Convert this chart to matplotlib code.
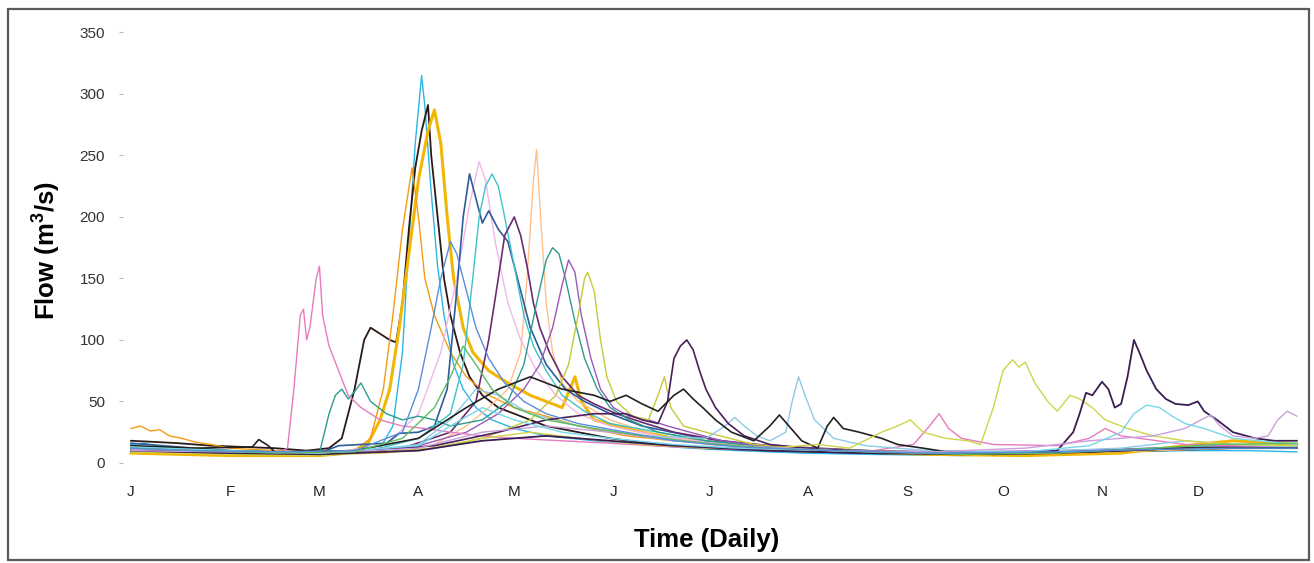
import matplotlib
matplotlib.use("Agg")
import matplotlib.pyplot as plt
from matplotlib.patches import Rectangle

plt.rcParams["font.family"] = ["Liberation Sans", "DejaVu Sans"]
plt.rcParams["mathtext.fontset"] = "custom"
plt.rcParams["mathtext.rm"] = "Liberation Sans:bold"
plt.rcParams["mathtext.it"] = "Liberation Sans:bold"
plt.rcParams["mathtext.bf"] = "Liberation Sans:bold"

# ---- data: (day of year, flow m3/s) ----
s01 = [(0,15),(4,16),(10,13),(20,11),(31,10),(45,9),(59,8),(70,9),(78,12),(82,30),(85,90),(87,180),(89,260),(91,315),(92,290),(94,220),(96,160),(98,120),(101,80),(104,60),(108,45),(113,35),(120,28),(130,22),(145,18),(160,15),(175,12),(190,10),(210,8),(230,7),(260,6),(290,7),(310,9),(330,10),(350,10),(365,9)]
s02 = [(0,18),(8,17),(15,16),(25,14),(35,13),(45,12),(55,10),(62,12),(66,20),(70,60),(73,100),(75,110),(78,105),(81,100),(83,98),(85,130),(87,190),(89,240),(91,270),(93,291),(94,250),(96,200),(98,150),(100,120),(103,90),(106,70),(110,55),(115,45),(122,38),(130,30),(140,25),(150,20),(165,15),(180,12),(200,10),(230,8),(260,7),(290,8),(320,10),(345,12),(365,12)]
s03 = [(0,8),(15,7),(31,6),(45,6),(59,6),(68,8),(74,15),(78,35),(81,60),(84,110),(87,170),(90,230),(93,270),(95,287),(97,260),(99,200),(101,150),(104,110),(107,90),(112,75),(118,65),(125,55),(135,45),(139,70),(141,50),(145,35),(155,28),(170,20),(190,15),(220,10),(250,7),(280,6),(310,8),(330,14),(345,18),(365,15)]
s04 = [(0,28),(3,30),(6,26),(9,27),(12,22),(16,20),(20,17),(25,15),(31,12),(45,10),(59,8),(70,10),(75,20),(79,60),(82,120),(85,190),(88,240),(90,200),(92,150),(95,120),(100,90),(105,70),(112,55),(120,45),(130,38),(140,30),(155,22),(170,18),(190,14),(220,10),(250,8),(280,7),(310,9),(340,12),(365,14)]
s05 = [(0,12),(20,10),(40,8),(59,7),(80,8),(95,15),(105,30),(112,45),(118,60),(122,90),(124,150),(126,230),(127,255),(128,210),(130,130),(132,90),(135,65),(140,50),(150,35),(165,22),(180,15),(200,12),(230,9),(260,7),(290,8),(320,10),(345,12),(365,12)]
s06 = [(0,10),(20,9),(45,8),(65,9),(80,15),(90,40),(97,90),(102,150),(106,210),(109,245),(111,230),(114,180),(118,130),(122,100),(127,75),(133,55),(140,40),(150,30),(165,22),(180,17),(200,12),(230,9),(260,8),(290,9),(320,11),(345,13),(365,12)]
s07 = [(0,16),(10,14),(20,12),(31,10),(45,9),(59,8),(65,14),(72,15),(80,16),(84,24),(90,25),(95,30),(99,60),(102,140),(104,200),(106,235),(108,215),(110,195),(112,205),(115,190),(118,180),(121,150),(125,110),(130,80),(136,60),(142,50),(150,40),(160,30),(175,22),(190,16),(210,12),(240,9),(270,8),(300,9),(330,12),(365,12)]
s08 = [(0,10),(20,9),(40,8),(59,7),(75,10),(90,20),(100,40),(104,80),(107,150),(109,200),(111,225),(113,235),(115,225),(117,200),(120,160),(123,120),(126,95),(130,75),(135,55),(142,42),(150,32),(165,25),(180,18),(200,14),(225,10),(260,8),(290,9),(320,12),(345,14),(365,12)]
s09 = [(0,12),(20,10),(45,8),(65,8),(85,12),(100,25),(108,50),(112,100),(115,150),(117,185),(119,195),(120,200),(122,185),(124,160),(126,130),(128,110),(131,90),(135,70),(140,55),(145,48),(152,40),(160,33),(170,25),(185,18),(200,14),(230,10),(260,8),(290,9),(320,11),(345,13),(365,12)]
s10 = [(0,14),(15,12),(31,10),(45,9),(59,8),(62,40),(64,55),(66,60),(68,52),(70,58),(72,65),(75,50),(80,40),(85,35),(90,38),(95,35),(100,30),(110,35),(118,50),(123,80),(127,130),(130,165),(132,175),(134,170),(136,150),(139,115),(142,85),(146,60),(150,45),(156,35),(165,25),(180,18),(200,13),(230,10),(260,8),(290,9),(320,11),(345,12),(365,12)]
s11 = [(0,10),(20,9),(45,8),(70,9),(90,14),(105,25),(115,40),(123,60),(128,80),(132,110),(135,145),(137,165),(139,155),(141,120),(144,85),(147,60),(151,45),(156,38),(162,35),(168,30),(175,25),(185,18),(200,13),(230,10),(260,9),(290,10),(320,12),(345,13),(365,12)]
s12 = [(0,9),(20,8),(45,7),(70,8),(95,12),(110,20),(125,35),(133,55),(137,80),(140,120),(142,150),(143,155),(145,140),(147,100),(149,70),(152,50),(157,38),(162,35),(165,55),(167,70),(169,45),(173,30),(180,25),(195,15),(215,11),(245,9),(275,8),(305,9),(335,12),(365,12)]
s13 = [(0,10),(15,9),(31,8),(45,7),(49,12),(51,60),(53,120),(54,125),(55,100),(56,110),(58,150),(59,160),(60,120),(62,95),(65,75),(68,55),(72,45),(78,35),(85,30),(92,28),(100,25),(110,22),(120,20),(135,18),(150,16),(170,13),(200,10),(230,9),(245,15),(250,30),(253,40),(256,28),(260,20),(270,15),(290,14),(300,20),(305,28),(310,22),(330,15),(365,13)]
s14 = [(0,12),(20,10),(45,8),(70,9),(90,15),(100,35),(108,60),(115,55),(125,40),(140,30),(160,22),(180,20),(186,30),(189,37),(192,30),(196,22),(200,18),(205,25),(207,50),(209,70),(211,55),(214,35),(220,20),(230,14),(250,10),(280,9),(310,12),(330,18),(345,15),(365,13)]
s15 = [(0,10),(20,9),(45,8),(70,9),(95,14),(115,25),(130,35),(145,40),(155,40),(160,35),(165,32),(168,50),(170,85),(172,95),(174,100),(176,92),(178,75),(180,60),(183,45),(187,32),(192,22),(200,15),(215,11),(240,9),(270,8),(300,9),(330,12),(365,12)]
s16 = [(0,14),(20,12),(38,13),(40,19),(43,14),(45,9),(70,10),(90,20),(105,45),(115,60),(125,70),(135,60),(145,55),(150,50),(155,55),(160,48),(165,42),(170,55),(173,60),(176,52),(179,45),(183,35),(188,25),(195,18),(200,30),(203,39),(206,30),(210,18),(215,12),(218,30),(220,37),(223,28),(228,25),(235,20),(240,15),(248,12),(258,8),(270,7),(290,8),(310,10),(330,12),(365,12)]
s17 = [(0,9),(30,7),(59,6),(90,10),(110,20),(125,25),(140,20),(160,15),(180,12),(200,12),(215,15),(225,12),(235,25),(240,30),(244,35),(248,25),(255,20),(262,18),(266,15),(270,45),(273,75),(276,84),(278,78),(280,82),(283,65),(287,50),(290,42),(294,55),(297,52),(301,45),(305,35),(312,28),(320,22),(330,18),(345,15),(365,14)]
s18 = [(0,10),(30,8),(59,7),(90,10),(110,18),(130,22),(150,18),(170,14),(200,10),(230,8),(260,7),(280,8),(290,10),(295,25),(297,40),(299,57),(301,55),(304,66),(306,60),(308,45),(310,48),(312,70),(314,100),(316,88),(318,75),(321,60),(324,52),(327,48),(331,47),(334,50),(336,42),(340,35),(345,25),(352,20),(358,18),(365,18)]
s19 = [(0,10),(30,9),(59,8),(90,12),(110,25),(130,30),(150,25),(170,18),(190,14),(220,10),(250,9),(280,12),(300,18),(320,22),(330,28),(335,35),(338,39),(341,30),(345,22),(352,20),(356,22),(359,35),(362,42),(365,38)]
s20 = [(0,13),(30,10),(59,8),(90,14),(100,30),(110,45),(120,35),(135,25),(150,20),(170,15),(190,12),(220,10),(250,8),(280,9),(300,14),(310,25),(314,40),(318,47),(322,45),(326,38),(330,32),(336,28),(345,20),(365,15)]
s21 = [(0,12),(20,10),(45,8),(70,9),(85,20),(95,45),(100,70),(104,95),(108,80),(113,60),(120,45),(130,35),(145,28),(160,22),(180,16),(200,12),(230,9),(260,7),(290,8),(320,12),(340,15),(365,16)]
s22 = [(0,12),(20,10),(45,9),(70,10),(85,25),(90,60),(94,110),(97,150),(100,180),(102,170),(105,140),(108,110),(112,85),(117,65),(123,50),(130,40),(140,32),(155,25),(170,18),(190,13),(220,10),(250,8),(290,9),(320,11),(345,12),(365,12)]

series = [s01, s02, s03, s04, s05, s06, s07, s08, s09, s10, s11,
          s12, s13, s14, s15, s16, s17, s18, s19, s20, s21, s22]
colors = ["#2BB5E6", "#2B1B17", "#F2B705", "#F39C12", "#FFC08A", "#F2B8E6",
          "#2E5C9A", "#3FC1C9", "#6A2C70", "#2A9D8F", "#9B59B6", "#C5C93A",
          "#E87BC0", "#8ECAE6", "#4B1F5C", "#222222", "#CFD44A", "#3A1E52",
          "#C9A0DC", "#76D7EA", "#5DBB63", "#5B8DD9"]
widths = [1.0, 1.3, 2.2, 1.0, 1.0, 1.0, 1.2, 1.0, 1.2, 1.0, 1.0, 1.0,
          1.0, 1.0, 1.2, 1.2, 1.0, 1.3, 1.0, 1.0, 1.0, 1.0]

month_starts = [0, 31, 59, 90, 120, 151, 181, 212, 243, 273, 304, 334]
month_labels = ["J", "F", "M", "A", "M", "J", "J", "A", "S", "O", "N", "D"]
y_ticks = [0, 50, 100, 150, 200, 250, 300, 350]

W, H = 1314, 563
fig = plt.figure(figsize=(W / 100, H / 100), dpi=100)
fig.patch.set_facecolor("white")
fig.add_artist(Rectangle((8 / W, 3 / H), 1301 / W, 551 / H, transform=fig.transFigure,
                         fill=False, edgecolor="#5a5a5a", linewidth=1.6))

ax = fig.add_axes([123 / W, 1 - 466 / H, (1300 - 123) / W, (466 - 30) / H])
for s, c, lw in zip(series, colors, widths):
    d = [p[0] for p in s]
    v = [p[1] for p in s]
    ax.plot(d, v, color=c, linewidth=lw)

ax.set_xlim(-2.5, 366)
ax.set_ylim(-2.5, 352)
for sp in ax.spines.values():
    sp.set_visible(False)
ax.set_xticks(month_starts)
ax.set_xticklabels(month_labels, fontsize=11, color="#222222")
ax.tick_params(axis="x", length=0, pad=14)
ax.set_yticks(y_ticks)
ax.set_yticklabels([str(t) for t in y_ticks], fontsize=11, color="#333333")
ax.tick_params(axis="y", length=3, color="#bbbbbb", pad=10)

fig.text(47 / W, 1 - 251 / H, r"Flow (m$^{\mathbf{3}}$/s)", rotation=90, ha="center", va="center",
         fontsize=18.5, fontweight="bold")
fig.text(707 / W, 1 - 540 / H, "Time (Daily)", ha="center", va="center",
         fontsize=18.5, fontweight="bold")

fig.savefig("out.png", dpi=100)
